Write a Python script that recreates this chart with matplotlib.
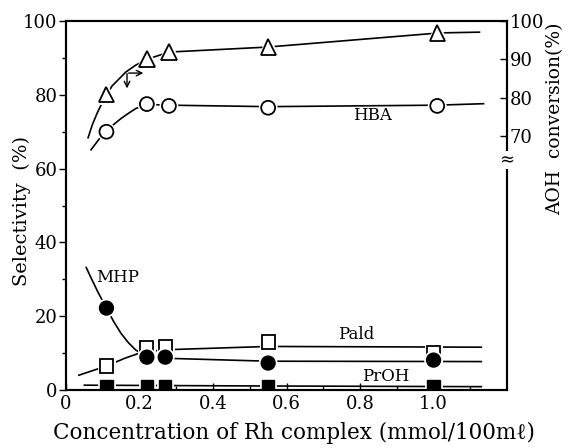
import numpy as np
import matplotlib
matplotlib.use('Agg')
import matplotlib.pyplot as plt
import matplotlib.patheffects as pe

plt.rcParams['font.family'] = ['DejaVu Serif', 'Liberation Serif', 'DejaVu Sans']

# measured points
x_open = [0.11, 0.22, 0.28, 0.55, 1.01]
aoh_conv = [80.9, 90.1, 91.9, 93.2, 96.9]      # triangles, right axis
hba_sel = [70.0, 77.5, 77.0, 76.5, 77.0]       # open circles

x_low = [0.11, 0.22, 0.27, 0.55, 1.0]
mhp_sel = [22.2, 8.9, 8.9, 7.3, 8.1]           # filled circles
pald_sel = [6.5, 11.5, 11.8, 13.0, 10.0]       # open squares
proh_sel = [0.9, 0.9, 0.9, 0.9, 0.9]           # filled squares

# hand-drawn guide curves
aoh_fit_x = [0.06, 0.072, 0.085, 0.1, 0.125, 0.163, 0.19, 0.223, 0.281, 0.548, 1.016, 1.125]
aoh_fit_y = [69.5, 73.0, 76.0, 79.0, 83.0, 86.7, 88.5, 90.1, 91.9, 93.2, 96.9, 97.1]
hba_fit_x = [0.068, 0.09, 0.11, 0.13, 0.15, 0.17, 0.19, 0.22, 0.28, 0.55, 1.01, 1.136]
hba_fit_y = [65.1, 68.0, 70.0, 72.0, 73.6, 75.0, 76.3, 77.4, 77.2, 76.8, 77.2, 77.6]
mhp_fit_x = [0.055, 0.07, 0.087, 0.11, 0.13, 0.15, 0.17, 0.19, 0.22, 0.27, 0.55, 1.13]
mhp_fit_y = [33.2, 30.0, 26.5, 22.2, 18.5, 15.3, 12.8, 10.8, 9.2, 8.6, 7.8, 7.7]
pald_fit_x = [0.035, 0.11, 0.16, 0.2, 0.25, 0.3, 0.55, 1.13]
pald_fit_y = [4.0, 6.5, 8.6, 10.0, 10.7, 11.0, 11.8, 11.6]
proh_fit_x = [0.05, 0.5, 1.13]
proh_fit_y = [1.3, 1.1, 0.9]

fig = plt.figure(figsize=(5.71, 4.48), dpi=100)
ax = fig.add_axes([0.1156, 0.1295, 0.7724, 0.8235])
ax2 = ax.twinx()

lw = 1.2
halo = [pe.withStroke(linewidth=3.5, foreground='white')]

ax.plot(hba_fit_x, hba_fit_y, color='black', lw=lw)
ax.plot(mhp_fit_x, mhp_fit_y, color='black', lw=lw)
ax.plot(pald_fit_x, pald_fit_y, color='black', lw=lw)
ax.plot(proh_fit_x, proh_fit_y, color='black', lw=lw)
ax2.plot(aoh_fit_x, aoh_fit_y, color='black', lw=lw)

ax.plot(x_open, hba_sel, 'o', ms=10, mfc='white', mec='black', mew=1.3, path_effects=halo)
ax.plot(x_low, pald_sel, 's', ms=9.5, mfc='white', mec='black', mew=1.3, path_effects=halo)
ax.plot(x_low, mhp_sel, 'o', ms=10, mfc='black', mec='black', path_effects=halo)
ax.plot(x_low, proh_sel, 's', ms=9, mfc='black', mec='black', path_effects=halo)
ax2.plot(x_open, aoh_conv, '^', ms=11, mfc='white', mec='black', mew=1.3, path_effects=halo)

# arrows showing which axis each curve uses
ax.annotate('', xy=(0.218, 85.9), xytext=(0.163, 85.9),
            arrowprops=dict(arrowstyle='->', lw=1.0, color='black'))
ax.annotate('', xy=(0.166, 81.0), xytext=(0.166, 86.5),
            arrowprops=dict(arrowstyle='->', lw=1.0, color='black'))

ax.text(0.833, 74.3, 'HBA', fontsize=12, ha='center', va='center')
ax.text(0.14, 30.5, 'MHP', fontsize=12, ha='center', va='center')
ax.text(0.79, 15.0, 'Pald', fontsize=12, ha='center', va='center')
ax.text(0.87, 3.6, 'PrOH', fontsize=12, ha='center', va='center')

ax.set_xlim(0, 1.2)
ax.set_ylim(0, 100)
ax2.set_ylim(3.6, 100)

ax.set_xticks([0, 0.2, 0.4, 0.6, 0.8, 1.0])
ax.set_xticklabels(['0', '0.2', '0.4', '0.6', '0.8', '1.0'])
ax.set_xticks(np.arange(0.1, 1.2, 0.2), minor=True)
ax.set_yticks([0, 20, 40, 60, 80, 100])
ax.set_yticks([10, 30, 50, 70, 90], minor=True)
ax2.set_yticks([70, 80, 90, 100])

ax.tick_params(axis='x', which='both', direction='in', labelsize=13, length=5, width=1)
ax.tick_params(axis='x', which='minor', length=3)
ax.tick_params(axis='y', which='both', direction='out', labelsize=13, length=5, width=1, pad=1)
ax.tick_params(axis='y', which='minor', length=3)
ax2.tick_params(axis='y', direction='in', labelsize=13, length=5, width=1, pad=2)

for a in (ax, ax2):
    for s in a.spines.values():
        s.set_linewidth(1.5)

# axis break on the right scale
ax2.text(1.0, 0.623, '≈', transform=ax2.transAxes, ha='center', va='center',
         fontsize=13, bbox=dict(boxstyle='square,pad=0.0', fc='white', ec='none'))

fig.text(0.038, 0.529, 'Selectivity  (%)', rotation=90, ha='center', va='center', fontsize=14)
fig.text(0.972, 0.735, 'AOH  conversion(%)', rotation=90, ha='center', va='center', fontsize=13.5)
fig.text(0.515, 0.033, 'Concentration of Rh complex (mmol/100mℓ)', ha='center', va='center', fontsize=15.5)

fig.savefig('out.png', dpi=100)
